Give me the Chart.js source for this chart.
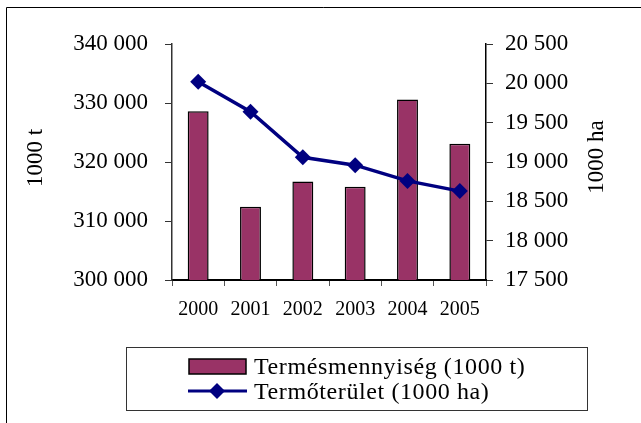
<!DOCTYPE html>
<html>
<head>
<meta charset="utf-8">
<script src="https://cdn.jsdelivr.net/npm/chart.js@4/dist/chart.umd.min.js"></script>
<style>
    html, body { margin: 0; padding: 0; background: #fff; }
    #wrap { width: 641px; height: 423px; position: relative; }
</style>
</head>
<body>
<div id="wrap"><canvas id="chart" width="641" height="423"></canvas></div>
<script>
// Adatok
const years = ['2000', '2001', '2002', '2003', '2004', '2005'];
const harvest = [328600, 312400, 316700, 315800, 330600, 323100];   // 1000 t
const area = [20020, 19640, 19060, 18960, 18760, 18630];            // 1000 ha
const harvestTicks = [300000, 310000, 320000, 330000, 340000];
const areaTicks = [17500, 18000, 18500, 19000, 19500, 20000, 20500];

const serif = '"Liberation Serif", "DejaVu Serif", serif';
const barColor = '#993366';
const lineColor = '#000080';

// ezres tagolás szóközzel
function fmt(v) {
    return String(v).replace(/\B(?=(\d{3})+(?!\d))/g, ' ');
}

// keret, tengelycímek és jelmagyarázat
const decor = {
    id: 'decor',
    afterDraw(chart) {
        const ctx = chart.ctx;
        ctx.save();

        // külső keret
        ctx.strokeStyle = '#000';
        ctx.lineWidth = 1;
        ctx.beginPath();
        ctx.moveTo(6.5, 423);
        ctx.lineTo(6.5, 7.5);
        ctx.lineTo(641, 7.5);
        ctx.stroke();

        // tengelycímek
        ctx.fillStyle = '#000';
        ctx.font = '23px ' + serif;
        ctx.textAlign = 'center';
        ctx.textBaseline = 'middle';
        ctx.save();
        ctx.translate(36, 158);
        ctx.rotate(-Math.PI / 2);
        ctx.fillText('1000 t', 0, 0);
        ctx.restore();
        ctx.save();
        ctx.translate(597, 157);
        ctx.rotate(-Math.PI / 2);
        ctx.fillText('1000 ha', 0, 0);
        ctx.restore();

        // jelmagyarázat
        ctx.strokeStyle = '#333';
        ctx.strokeRect(126.5, 347.5, 461, 63);

        ctx.fillStyle = barColor;
        ctx.fillRect(189, 359, 57, 15);
        ctx.strokeStyle = '#000';
        ctx.lineWidth = 1.5;
        ctx.strokeRect(189, 359, 57, 15);

        ctx.strokeStyle = lineColor;
        ctx.lineWidth = 3;
        ctx.beginPath();
        ctx.moveTo(188, 391);
        ctx.lineTo(247, 391);
        ctx.stroke();
        ctx.fillStyle = lineColor;
        ctx.beginPath();
        ctx.moveTo(217, 383);
        ctx.lineTo(225, 391);
        ctx.lineTo(217, 399);
        ctx.lineTo(209, 391);
        ctx.closePath();
        ctx.fill();

        ctx.fillStyle = '#000';
        ctx.font = '24px ' + serif;
        ctx.letterSpacing = '0.6px';
        ctx.textAlign = 'left';
        ctx.textBaseline = 'alphabetic';
        ctx.fillText('Termésmennyiség (1000 t)', 254, 374);
        ctx.fillText('Termőterület (1000 ha)', 254, 399);

        ctx.restore();
    }
};

new Chart(document.getElementById('chart'), {
    data: {
        labels: years,
        datasets: [
            {
                type: 'line',
                label: 'Termőterület (1000 ha)',
                data: area,
                yAxisID: 'yArea',
                borderColor: lineColor,
                backgroundColor: lineColor,
                borderWidth: 3.5,
                pointStyle: 'rectRot',
                pointRadius: 8,
                pointBorderWidth: 0,
                tension: 0,
                order: 0
            },
            {
                type: 'bar',
                label: 'Termésmennyiség (1000 t)',
                data: harvest,
                yAxisID: 'yHarvest',
                backgroundColor: barColor,
                borderColor: '#000',
                borderWidth: 1.5,
                barPercentage: 0.4,
                categoryPercentage: 1,
                order: 1
            }
        ]
    },
    options: {
        responsive: false,
        animation: false,
        devicePixelRatio: 1,
        layout: { padding: { left: 0, right: 0, top: 44, bottom: 0 } },
        plugins: {
            legend: { display: false },
            tooltip: { enabled: false }
        },
        scales: {
            x: {
                grid: { drawOnChartArea: false, tickLength: 6, color: '#555', offset: true },
                border: { color: '#000', width: 2 },
                ticks: { color: '#000', font: { family: serif, size: 20 }, padding: 12 },
                afterFit(scale) { scale.height = 143; }
            },
            yHarvest: {
                position: 'left',
                min: 300000,
                max: 340000,
                afterBuildTicks(scale) { scale.ticks = harvestTicks.map(v => ({ value: v })); },
                grid: { drawOnChartArea: false, tickLength: 7, color: '#333' },
                border: { color: '#333', width: 1.5 },
                ticks: {
                    color: '#000',
                    font: { family: serif, size: 23 },
                    padding: 17,
                    callback: v => fmt(v)
                },
                afterFit(scale) { scale.width = 172; }
            },
            yArea: {
                position: 'right',
                min: 17500,
                max: 20500,
                afterBuildTicks(scale) { scale.ticks = areaTicks.map(v => ({ value: v })); },
                grid: { drawOnChartArea: false, tickLength: 7, color: '#333' },
                border: { color: '#000', width: 1.5 },
                ticks: {
                    color: '#000',
                    font: { family: serif, size: 23 },
                    padding: 12,
                    callback: v => fmt(v)
                },
                afterFit(scale) { scale.width = 155; }
            }
        }
    },
    plugins: [decor]
});
</script>
</body>
</html>
